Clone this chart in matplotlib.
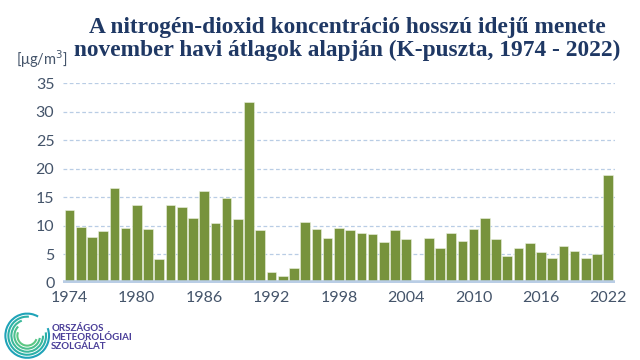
import numpy as np
import matplotlib.pyplot as plt
from matplotlib.patches import Arc

years = list(range(1974, 2023))
no2 = [12.8, 9.8, 8.0, 9.1, 16.7, 9.6, 13.6, 9.5, 4.1, 13.6,
       13.3, 11.4, 16.1, 10.5, 14.9, 11.2, 31.8, 9.2, 1.9, 1.2,
       2.5, 10.6, 9.4, 7.9, 9.6, 9.2, 8.7, 8.6, 7.2, 9.2,
       7.7, np.nan, 7.9, 6.1, 8.8, 7.4, 9.5, 11.4, 7.6, 4.7,
       6.1, 7.0, 5.4, 4.3, 6.5, 5.5, 4.4, 5.0, 18.9]
tick_years = [1974, 1980, 1986, 1992, 1998, 2004, 2010, 2016, 2022]
yticks = [0, 5, 10, 15, 20, 25, 30, 35]

title = "A nitrogén-dioxid koncentráció hosszú idejű menete\nnovember havi átlagok alapján (K-puszta, 1974 - 2022)"

txt_col = "#44546A"
fig = plt.figure(figsize=(6.4, 3.6), dpi=100)
ax = fig.add_axes([0.098, 0.2147, 0.863, 0.554])

ax.bar(years, no2, width=0.86, color="#77933C", edgecolor="#EEF3E2", linewidth=0.4, zorder=3)
ax.axhline(0, color="#B9CDE5", linewidth=4, zorder=4)
for y in yticks[1:]:
    ax.axhline(y, color="#B9CDE5", linewidth=0.9, linestyle=(0, (3, 2)), zorder=1)

ax.set_xlim(1973.4, 2022.6)
ax.set_ylim(0, 35)
ax.set_yticks(yticks)
ax.set_xticks(tick_years)
ax.tick_params(length=0, labelsize=11.5, labelcolor=txt_col, pad=6)
for lab in ax.get_xticklabels() + ax.get_yticklabels():
    lab.set_fontfamily("Lato")
for s in ax.spines.values():
    s.set_visible(False)

fig.text(0.542, 0.952, title, ha="center", va="top", fontsize=16.8, fontweight="bold",
         family="Liberation Serif", color="#1F3864", linespacing=1.1)
fig.text(0.025, 0.835, "[μg/m$^3$]", fontsize=10.5, family="Lato", color=txt_col, va="center")

# logo
lax = fig.add_axes([0.005, 0.0, 0.075, 0.135])
lax.set_xlim(-1.1, 1.1)
lax.set_ylim(-1.1, 1.1)
lax.axis("off")
cols = ["#1FA3B8", "#2BB0A8", "#3CB89A", "#4CC08E", "#5CC783"]
for i, r in enumerate(np.linspace(2.0, 0.9, 5)):
    lax.add_patch(Arc((0, 0), r, r, theta1=60 + 25 * i, theta2=380 - 10 * i,
                      color=cols[i], linewidth=1.5))
fig.text(0.08, 0.062, "ORSZÁGOS\nMETEOROLÓGIAI\nSZOLGÁLAT", fontsize=7, family="Lato",
         fontweight="bold", color="#4B3F99", va="center", linespacing=1.0)

fig.savefig("out.png", dpi=100)
